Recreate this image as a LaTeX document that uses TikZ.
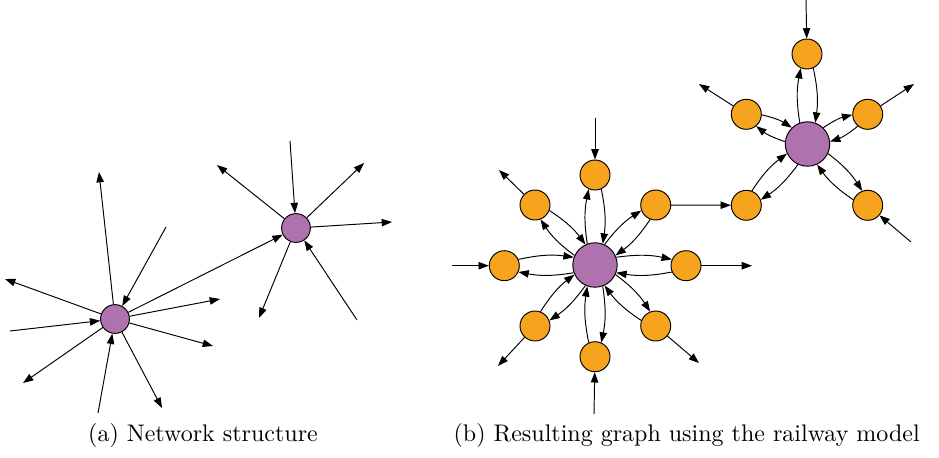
\documentclass[tikz,border=0pt]{standalone}
\usetikzlibrary{arrows.meta}
\definecolor{hubpurple}{RGB}{176,114,174}
\definecolor{stationorange}{RGB}{246,163,30}
\begin{document}
\begin{tikzpicture}[x=0.41667pt,y=-0.41667pt,
  arr/.style={-{Triangle[length=4.3pt,width=3.1pt]}, line width=0.4pt},
  hub/.style={circle,draw,fill=hubpurple,inner sep=0pt,minimum size=12pt},
  bighub/.style={hub,minimum size=18.5pt},
  station/.style={circle,draw,fill=stationorange,inner sep=0pt,minimum size=12.5pt},
  rail/.style={arr,bend left=10},
]
\useasboundingbox (0,0) rectangle (939,457);

% ---------- (a) network structure ----------
\node[hub] (A) at (115,319) {};
\node[hub] (B) at (296,228) {};

\coordinate (a1) at (99,172);
\coordinate (a2) at (166,227);
\coordinate (a3) at (5,279);
\coordinate (a4) at (10,331);
\coordinate (a5) at (23,383);
\coordinate (a6) at (98,413);
\coordinate (a7) at (162,408);
\coordinate (a8) at (213,346);
\coordinate (a9) at (220,299);

\draw[arr] (A) -- (a1);
\draw[arr] (a2) -- (A);
\draw[arr] (A) -- (a3);
\draw[arr] (a4) -- (A);
\draw[arr] (A) -- (a5);
\draw[arr] (a6) -- (A);
\draw[arr] (A) -- (a7);
\draw[arr] (A) -- (a8);
\draw[arr] (A) -- (a9);
\draw[arr] (A) -- (B);

\coordinate (b1) at (290,141);
\coordinate (b2) at (217,165);
\coordinate (b3) at (364,163);
\coordinate (b4) at (392,222);
\coordinate (b5) at (259,318);
\coordinate (b6) at (357,320);

\draw[arr] (b1) -- (B);
\draw[arr] (B) -- (b2);
\draw[arr] (B) -- (b3);
\draw[arr] (B) -- (b4);
\draw[arr] (B) -- (b5);
\draw[arr] (b6) -- (B);

% ---------- (b) railway model: first station group ----------
\node[bighub] (C) at (595,265) {};
\node[station] (cT)  at (595,175) {};
\node[station] (cTR) at (655.7,205) {};
\node[station] (cR)  at (686,265.7) {};
\node[station] (cBR) at (655.7,326) {};
\node[station] (cB)  at (595,356.7) {};
\node[station] (cBL) at (535,326) {};
\node[station] (cL)  at (504.3,265.7) {};
\node[station] (cTL) at (535,205) {};

% ---------- (b) railway model: second station group ----------
\node[bighub] (D) at (807.5,144) {};
\node[station] (dT)  at (807,54) {};
\node[station] (dUL) at (746.3,114.3) {};
\node[station] (dUR) at (867.7,114.3) {};
\node[station] (dLL) at (746.3,205.3) {};
\node[station] (dLR) at (867.7,205.3) {};

% paired tracks hub <-> station; \a is the direction from hub to station
\foreach \h/\s/\a in {C/cT/90,C/cTR/45,C/cR/0,C/cBR/-45,C/cB/-90,C/cBL/-135,C/cL/180,C/cTL/135,
                      D/dT/90,D/dUL/154,D/dUR/26,D/dLL/-135,D/dLR/-45}{
  \draw[rail] (\h.{\a+20}) to (\s.{\a+180-24});
  \draw[rail] (\s.{\a+180+24}) to (\h.{\a-20});
}

% external tracks
\coordinate (cT0)  at (595,118);
\coordinate (cTL0) at (499,170);
\coordinate (cR0)  at (752,265.7);
\coordinate (cBR0) at (699,363);
\coordinate (cB0)  at (594,414);
\coordinate (cBL0) at (498,366);
\coordinate (cL0)  at (452,265.7);

\draw[arr] (cT0) -- (cT);
\draw[arr] (cTL) -- (cTL0);
\draw[arr] (cTR) -- (dLL);
\draw[arr] (cR) -- (cR0);
\draw[arr] (cBR) -- (cBR0);
\draw[arr] (cB0) -- (cB);
\draw[arr] (cBL) -- (cBL0);
\draw[arr] (cL0) -- (cL);

\coordinate (dT0)  at (806,0);
\coordinate (dUL0) at (699,84);
\coordinate (dUR0) at (914,84);
\coordinate (dLR0) at (911,242);

\draw[arr] (dT0) -- (dT);
\draw[arr] (dUL) -- (dUL0);
\draw[arr] (dUR) -- (dUR0);
\draw[arr] (dLR0) -- (dLR);

% ---------- captions ----------
\node[anchor=base] (capa) at (203,441) {(a) Network structure};
\node[anchor=base] (capb) at (686.7,441) {(b) Resulting graph using the railway model};
\end{tikzpicture}
\end{document}
